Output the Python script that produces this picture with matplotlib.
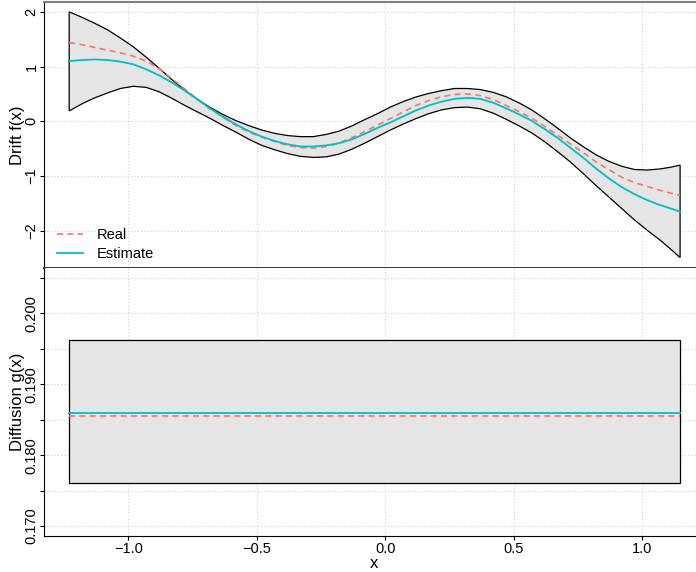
import numpy as np
import matplotlib
matplotlib.use('Agg')
import matplotlib.pyplot as plt

plt.rcParams['font.family'] = ['Liberation Sans', 'DejaVu Sans']

x_vals = [-1.23, -1.18, -1.13, -1.08, -1.03, -0.98, -0.93, -0.88, -0.83, -0.78,
          -0.73, -0.68, -0.63, -0.58, -0.53, -0.48, -0.43, -0.38, -0.33, -0.28,
          -0.23, -0.18, -0.13, -0.08, -0.03, 0.02, 0.07, 0.12, 0.17, 0.22,
          0.27, 0.32, 0.37, 0.42, 0.47, 0.52, 0.57, 0.62, 0.67, 0.72,
          0.77, 0.82, 0.87, 0.92, 0.97, 1.02, 1.07, 1.11, 1.148]

# Drift: real, estimate and band
drift_real = [1.44, 1.40, 1.35, 1.30, 1.25, 1.19, 1.10, 0.96, 0.78, 0.59,
              0.40, 0.22, 0.07, -0.08, -0.20, -0.29, -0.37, -0.44, -0.48, -0.49,
              -0.46, -0.40, -0.30, -0.19, -0.07, 0.05, 0.17, 0.29, 0.38, 0.45,
              0.49, 0.50, 0.47, 0.40, 0.29, 0.18, 0.06, -0.09, -0.25, -0.41,
              -0.57, -0.74, -0.88, -1.02, -1.12, -1.19, -1.26, -1.31, -1.35]
drift_est = [1.10, 1.12, 1.13, 1.12, 1.09, 1.04, 0.95, 0.84, 0.71, 0.56,
             0.40, 0.23, 0.08, -0.06, -0.18, -0.28, -0.36, -0.42, -0.46, -0.46,
             -0.44, -0.40, -0.33, -0.23, -0.12, -0.02, 0.09, 0.20, 0.29, 0.36,
             0.41, 0.43, 0.41, 0.34, 0.24, 0.13, 0.01, -0.14, -0.30, -0.48,
             -0.66, -0.86, -1.04, -1.20, -1.33, -1.44, -1.53, -1.59, -1.65]
drift_upper = [2.00, 1.90, 1.79, 1.67, 1.52, 1.36, 1.17, 0.97, 0.76, 0.57,
               0.40, 0.25, 0.12, 0.01, -0.08, -0.16, -0.22, -0.26, -0.28, -0.28,
               -0.24, -0.18, -0.085, 0.03, 0.14, 0.26, 0.36, 0.445, 0.51, 0.56,
               0.60, 0.60, 0.58, 0.53, 0.45, 0.34, 0.21, 0.05, -0.12, -0.30,
               -0.46, -0.61, -0.73, -0.82, -0.88, -0.89, -0.87, -0.84, -0.80]
drift_lower = [0.19, 0.32, 0.43, 0.52, 0.60, 0.64, 0.62, 0.54, 0.42, 0.29,
               0.17, 0.05, -0.08, -0.20, -0.33, -0.44, -0.52, -0.59, -0.64, -0.66,
               -0.65, -0.60, -0.51, -0.40, -0.28, -0.16, -0.05, 0.05, 0.14, 0.21,
               0.25, 0.26, 0.23, 0.15, 0.04, -0.08, -0.21, -0.37, -0.55, -0.74,
               -0.95, -1.17, -1.38, -1.59, -1.80, -1.99, -2.17, -2.33, -2.49]

# Diffusion: constant values
diff_x = [-1.23, 1.148]
diff_real = [0.1855, 0.1855]
diff_est = [0.1860, 0.1860]
diff_upper = [0.19623, 0.19623]
diff_lower = [0.17612, 0.17612]

x_ticks = [-1.0, -0.5, 0.0, 0.5, 1.0]
x_labels = ['\u22121.0', '\u22120.5', '0.0', '0.5', '1.0']
drift_ticks = [-2, -1, 0, 1, 2]
diff_ticks = [0.170, 0.175, 0.180, 0.185, 0.190, 0.195, 0.200, 0.205]

RED = '#F8766D'
CYAN = '#00BFC4'
BAND = '#E5E5E5'
GRID = '#D0D0D0'
DASH = (0, (3.6, 2.6))

fig = plt.figure(figsize=(6.96, 5.72), dpi=100)
ax1 = fig.add_axes([44 / 696, 1 - 268 / 572, (704.5 - 44) / 696, 266 / 572])
ax2 = fig.add_axes([44 / 696, 1 - 536 / 572, (704.5 - 44) / 696, 268 / 572])


def band(ax, x, lo, hi):
    xs = np.concatenate([x, x[::-1]])
    ys = np.concatenate([hi, lo[::-1]])
    ax.fill(xs, ys, facecolor=BAND, edgecolor='black', linewidth=0.9, zorder=2)


def style(ax):
    ax.set_xlim(-1.328, 1.243)
    ax.set_xticks(x_ticks)
    ax.grid(True, color=GRID, linestyle=(0, (1, 2)), linewidth=0.8)
    ax.set_axisbelow(True)
    ax.tick_params(axis='both', direction='out', length=3, width=0.8,
                   labelsize=10.5, color='black')
    ax.tick_params(axis='y', pad=6)
    ax.tick_params(axis='x', pad=1.5)
    for lab in ax.get_yticklabels():
        lab.set_rotation(90)
        lab.set_ha('center')
        lab.set_va('center')
    ax.spines['right'].set_visible(False)
    ax.spines['left'].set_color('black')


xa = np.array(x_vals)

# --- drift panel ---
band(ax1, xa, np.array(drift_lower), np.array(drift_upper))
ax1.plot(xa, drift_real, color=RED, linestyle=DASH, linewidth=1.2,
         label='Real', zorder=3)
ax1.plot(xa, drift_est, color=CYAN, linewidth=1.3, label='Estimate', zorder=3)
ax1.set_ylim(-2.68, 2.18)
ax1.set_yticks(drift_ticks)
ax1.set_yticklabels([str(t).replace('-', '\u2212') for t in drift_ticks])
style(ax1)
ax1.tick_params(axis='x', bottom=False, labelbottom=False)
ax1.spines['top'].set_color('#808080')
ax1.spines['top'].set_linewidth(1.5)
ax1.spines['bottom'].set_color('#333333')
ax1.spines['bottom'].set_linewidth(1.4)
ax1.set_ylabel('Drift f(x)', fontsize=12)
ax1.yaxis.set_label_coords(-0.0295, 0.5)
ax1.legend(loc='lower left', bbox_to_anchor=(0.0, -0.022), frameon=False,
           fontsize=10.5, handlelength=1.8, labelspacing=0.3, handletextpad=0.9,
           borderaxespad=0.5)

# --- diffusion panel ---
band(ax2, np.array(diff_x), np.array(diff_lower), np.array(diff_upper))
ax2.plot(diff_x, diff_est, color=CYAN, linewidth=1.3, zorder=3)
ax2.plot(diff_x, diff_real, color=RED, linestyle=DASH, linewidth=1.2,
         zorder=3)
ax2.set_ylim(0.1686, 0.2064)
ax2.set_yticks(diff_ticks)
ax2.set_yticklabels(['%.3f' % t if round(t * 1000) % 10 == 0 else ''
                     for t in diff_ticks])
style(ax2)
ax2.spines['top'].set_visible(False)
ax2.spines['bottom'].set_color('black')
ax2.set_xticklabels(x_labels)
ax2.set_ylabel('Diffusion g(x)', fontsize=12)
ax2.yaxis.set_label_coords(-0.0295, 0.5)
ax2.set_xlabel('x', fontsize=12)
ax2.xaxis.set_label_coords(0.5, -0.075)

fig.savefig('out.png', dpi=100)
